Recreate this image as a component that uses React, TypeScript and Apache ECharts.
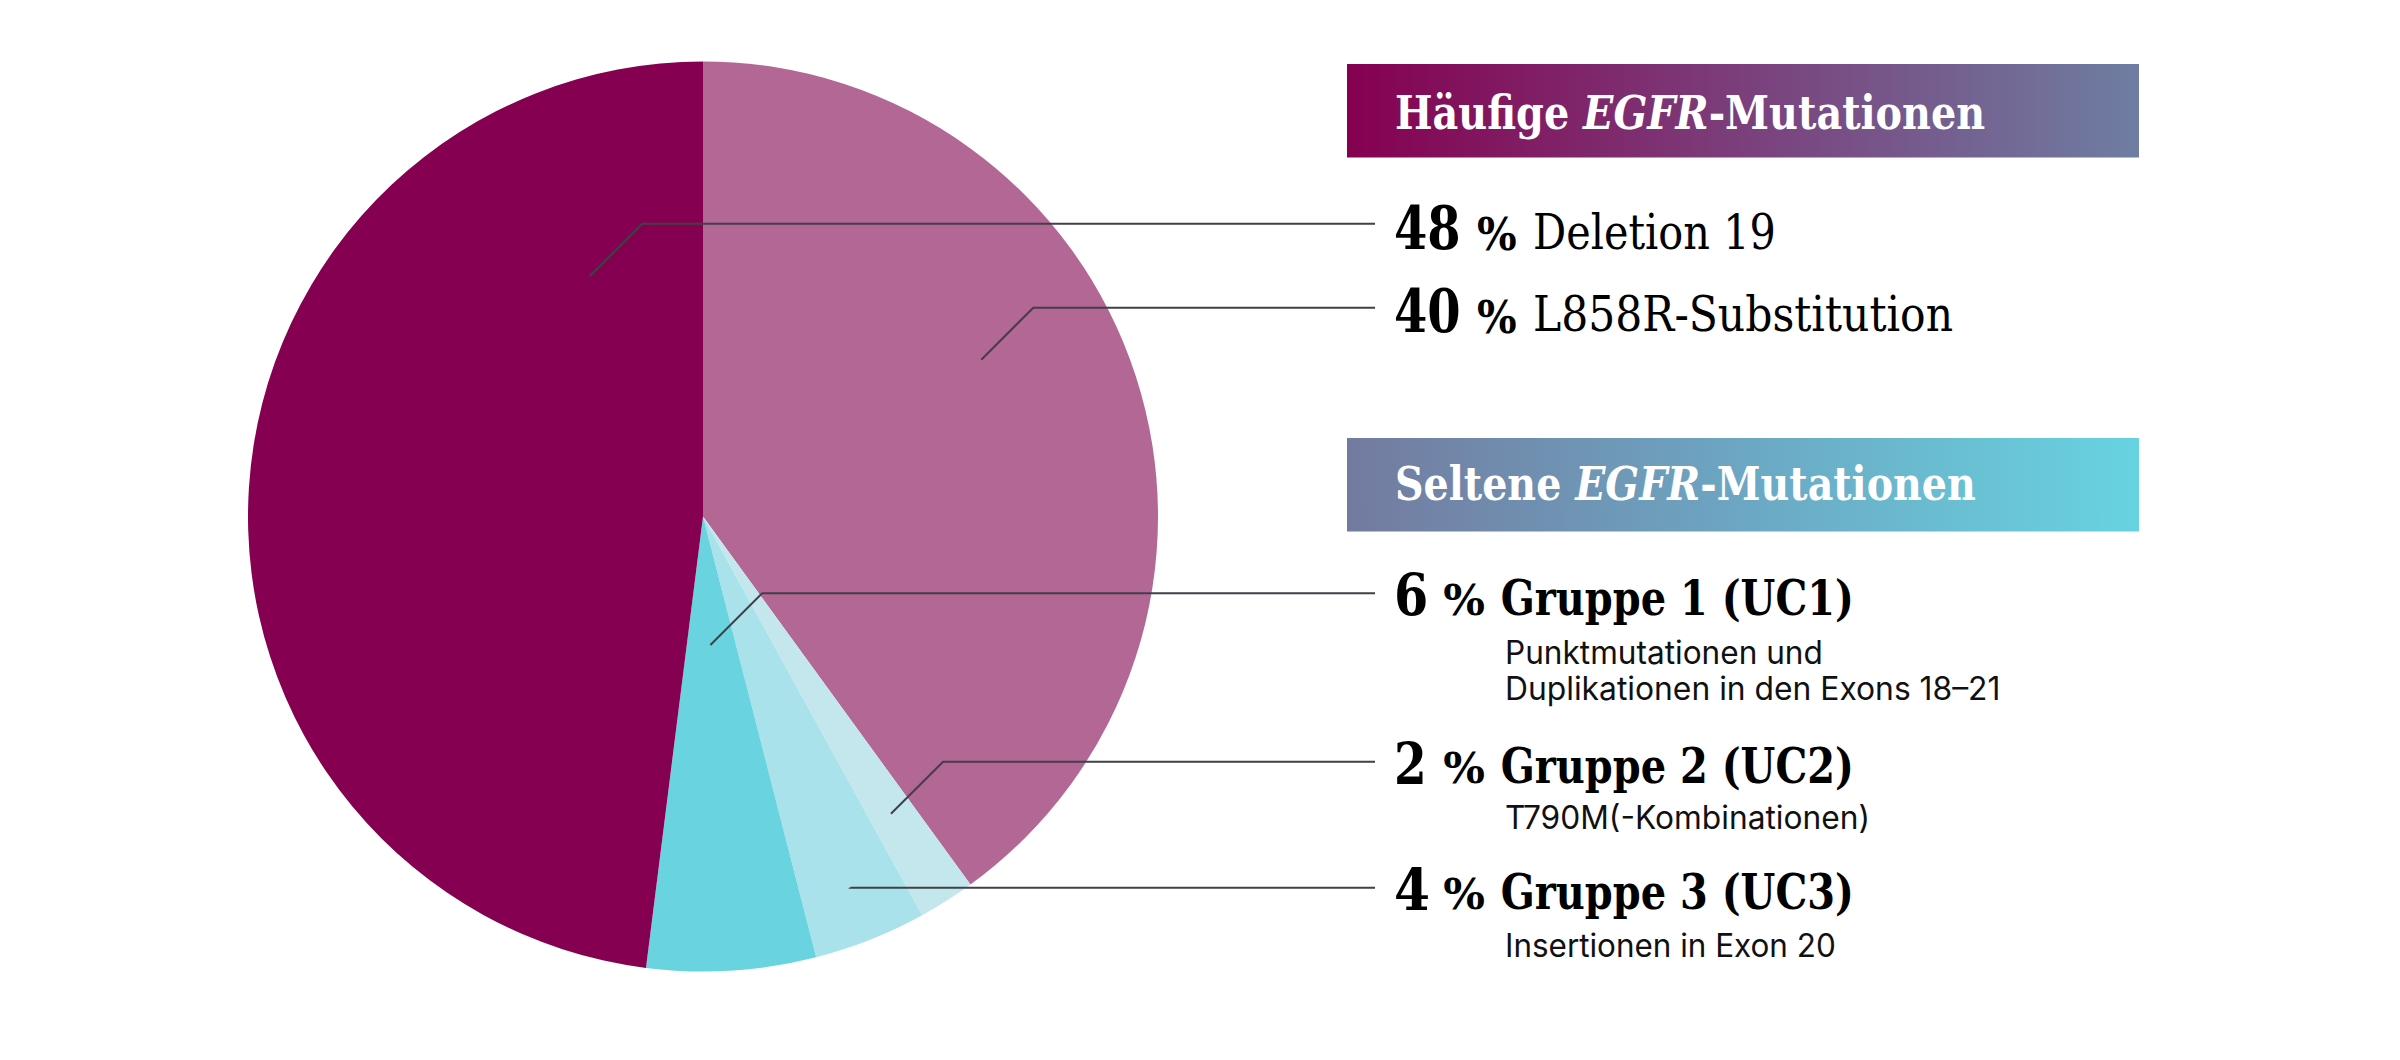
import React, { useEffect, useRef } from 'react';
import * as echarts from 'echarts';

// pie slices, clockwise from 12 o'clock
const sliceNames = ['L858R-Substitution', 'Gruppe 2 (UC2)', 'Gruppe 3 (UC3)', 'Gruppe 1 (UC1)', 'Deletion 19'];
const sliceValues = [40, 2, 4, 6, 48];
const sliceColors = ['#b36794', '#c4e7ee', '#a9e2ea', '#69d3df', '#850050'];

// right hand legend
const headingWords = ['Häufige ', 'Seltene '];
const headingGene = 'EGFR';
const headingTail = '-Mutationen';
const commonNames = ['Deletion 19', 'L858R-Substitution'];
const rareNames = ['Gruppe 1 (UC1)', 'Gruppe 2 (UC2)', 'Gruppe 3 (UC3)'];
const rareNotes = [
  ['Punktmutationen und', 'Duplikationen in den Exons 18–21'],
  ['T790M(-Kombinationen)'],
  ['Insertionen in Exon 20'],
];

// where each leader starts inside its slice: angle clockwise from top, share of radius
const leaderAngles = [334.8, 60.6, 176.7, 147.7, 158.3];
const leaderRadii = [0.584, 0.702, 0.283, 0.773, 0.878];

// layout
const CX = 703;
const CY = 516.5;
const R = 455;
const LINE_END = 1375;
const SERIF = "'DejaVu Serif', serif";
const SANS = "Inter, 'Noto Sans', sans-serif";
const HEAD_X = 1347;
const HEAD_W = 792;
const HEAD_Y = [64, 438];
const HEAD_H = 93.5;
const HEAD_TEXT_X = 1395;
const HEAD_BASE = [128.3, 500];
const HEAD_RIGHT = [1985, 1975.7];
const HEAD_GRAD = [
  ['#850050', '#7b3f7c', '#6e7ea2'],
  ['#737a9f', '#6ca7c3', '#67d3e0'],
];
const ROW_LINE_Y = [223.7, 307.7, 593.3, 761.7, 887.7];
const ROW_BASE = [249, 332, 615, 782.7, 909.3];
const NUM_X = 1394;
const NUM_RIGHT = [1460.7, 1460.7, 1428.3, 1426.7, 1430];
const PCT_X = [1477, 1477, 1443.3, 1443.3, 1443.3];
const PCT_RIGHT = [1516.7, 1516.7, 1485, 1485, 1485];
const NAME_X = [1533, 1533, 1500.7, 1500.7, 1500.7];
const NAME_RIGHT = [1776, 1953, 1854, 1854, 1854];
const NOTE_X = 1505;
const NOTE_BASE = [[664.3, 700], [828.7], [956.7]];
const NOTE_RIGHT = [[1823, 2000.7], [1870], [1836]];

const ctx = document.createElement('canvas').getContext('2d') as CanvasRenderingContext2D;
const fontStr = (size: number, weight: string, style: string, family: string) =>
  `${style} ${weight} ${size}px ${family}`;
const textWidth = (text: string, font: string) => {
  ctx.font = font;
  return ctx.measureText(text).width;
};
const centralOffset = (font: string) => {
  ctx.font = font;
  const m = ctx.measureText('Hg');
  return (m.fontBoundingBoxAscent - m.fontBoundingBoxDescent) / 2;
};

const fitText = (
  text: string, x: number, baseline: number, right: number,
  size: number, weight: string, fstyle: string, family: string, color: string
) => {
  const font = fontStr(size, weight, fstyle, family);
  const w = textWidth(text, font);
  return {
    type: 'text',
    x,
    y: baseline - centralOffset(font),
    scaleX: (right - x) / w,
    z: 10,
    silent: true,
    style: {
      text,
      fontSize: size,
      fontWeight: weight,
      fontStyle: fstyle,
      fontFamily: family,
      fill: color,
      align: 'left',
      verticalAlign: 'middle',
      textAlign: 'left',
      textVerticalAlign: 'middle',
    },
  };
};

const heading = (i: number) => {
  const size = 47;
  const up = fontStr(size, 'bold', 'normal', SERIF);
  const it = fontStr(size, 'bold', 'italic', SERIF);
  const w = textWidth(headingWords[i], up) + textWidth(headingGene, it) + textWidth(headingTail, up);
  const rich = {
    b: { fontSize: size, fontWeight: 'bold', fontFamily: SERIF, fill: '#fff', color: '#fff' },
    i: { fontSize: size, fontWeight: 'bold', fontStyle: 'italic', fontFamily: SERIF, fill: '#fff', color: '#fff' },
  };
  const stops = HEAD_GRAD[i].map((c, k) => ({ offset: k / (HEAD_GRAD[i].length - 1), color: c }));
  return [
    {
      type: 'rect',
      silent: true,
      z: 5,
      shape: { x: HEAD_X, y: HEAD_Y[i], width: HEAD_W, height: HEAD_H },
      style: { fill: { type: 'linear', x: 0, y: 0, x2: 1, y2: 0, colorStops: stops } },
    },
    {
      type: 'text',
      x: HEAD_TEXT_X,
      y: HEAD_BASE[i] - centralOffset(up),
      scaleX: (HEAD_RIGHT[i] - HEAD_TEXT_X) / w,
      z: 10,
      silent: true,
      style: {
        text: `{b|${headingWords[i]}}{i|${headingGene}}{b|${headingTail}}`,
        rich,
        fill: '#fff',
        align: 'left',
        verticalAlign: 'middle',
        textAlign: 'left',
        textVerticalAlign: 'middle',
      },
    },
  ];
};

export default function App() {
  const ref = useRef<HTMLDivElement>(null);

  useEffect(() => {
    if (!ref.current) return;
    const chart = echarts.init(ref.current, null, { renderer: 'svg' });

    const legendNames = [...commonNames, ...rareNames];
    const graphics: any[] = [...heading(0), ...heading(1)];

    legendNames.forEach((name, i) => {
      const value = sliceValues[sliceNames.indexOf(name)];
      const rare = i >= 2;
      const numSize = rare ? 58 : 60;
      const pctSize = rare ? 42 : 45;
      const nameSize = rare ? 49 : 48;
      graphics.push(fitText(String(value), NUM_X, ROW_BASE[i], NUM_RIGHT[i], numSize, 'bold', 'normal', SERIF, '#000'));
      graphics.push(fitText('%', PCT_X[i], ROW_BASE[i], PCT_RIGHT[i], pctSize, 'bold', 'normal', SERIF, '#000'));
      graphics.push(fitText(name, NAME_X[i], ROW_BASE[i], NAME_RIGHT[i], nameSize, rare ? 'bold' : 'normal', 'normal', SERIF, '#000'));

      // leader line from inside the slice to the legend row
      const a = (leaderAngles[i] * Math.PI) / 180;
      const sx = CX + R * leaderRadii[i] * Math.sin(a);
      const sy = CY - R * leaderRadii[i] * Math.cos(a);
      const rise = sy - ROW_LINE_Y[i];
      graphics.push({
        type: 'polyline',
        silent: true,
        z: 20,
        shape: { points: [[sx, sy], [sx + rise, ROW_LINE_Y[i]], [LINE_END, ROW_LINE_Y[i]]] },
        style: { stroke: '#404048', lineWidth: 2, fill: null },
      });
    });

    rareNotes.forEach((lines, g) => {
      lines.forEach((line, k) => {
        graphics.push(fitText(line, NOTE_X, NOTE_BASE[g][k], NOTE_RIGHT[g][k], 32, 'normal', 'normal', SANS, '#111'));
      });
    });

    chart.setOption({
      animation: false,
      backgroundColor: '#fff',
      series: [
        {
          type: 'pie',
          center: [CX, CY],
          radius: R,
          startAngle: 90,
          clockwise: true,
          silent: true,
          z: 1,
          label: { show: false },
          labelLine: { show: false },
          emphasis: { disabled: true },
          itemStyle: { borderWidth: 0 },
          data: sliceNames.map((n, i) => ({ name: n, value: sliceValues[i], itemStyle: { color: sliceColors[i] } })),
        },
      ],
      graphic: { elements: graphics },
    });

    return () => {
      chart.dispose();
    };
  }, []);

  return <div ref={ref} style={{ position: 'absolute', left: 0, top: 0, width: 2400, height: 1060 }} />;
}
